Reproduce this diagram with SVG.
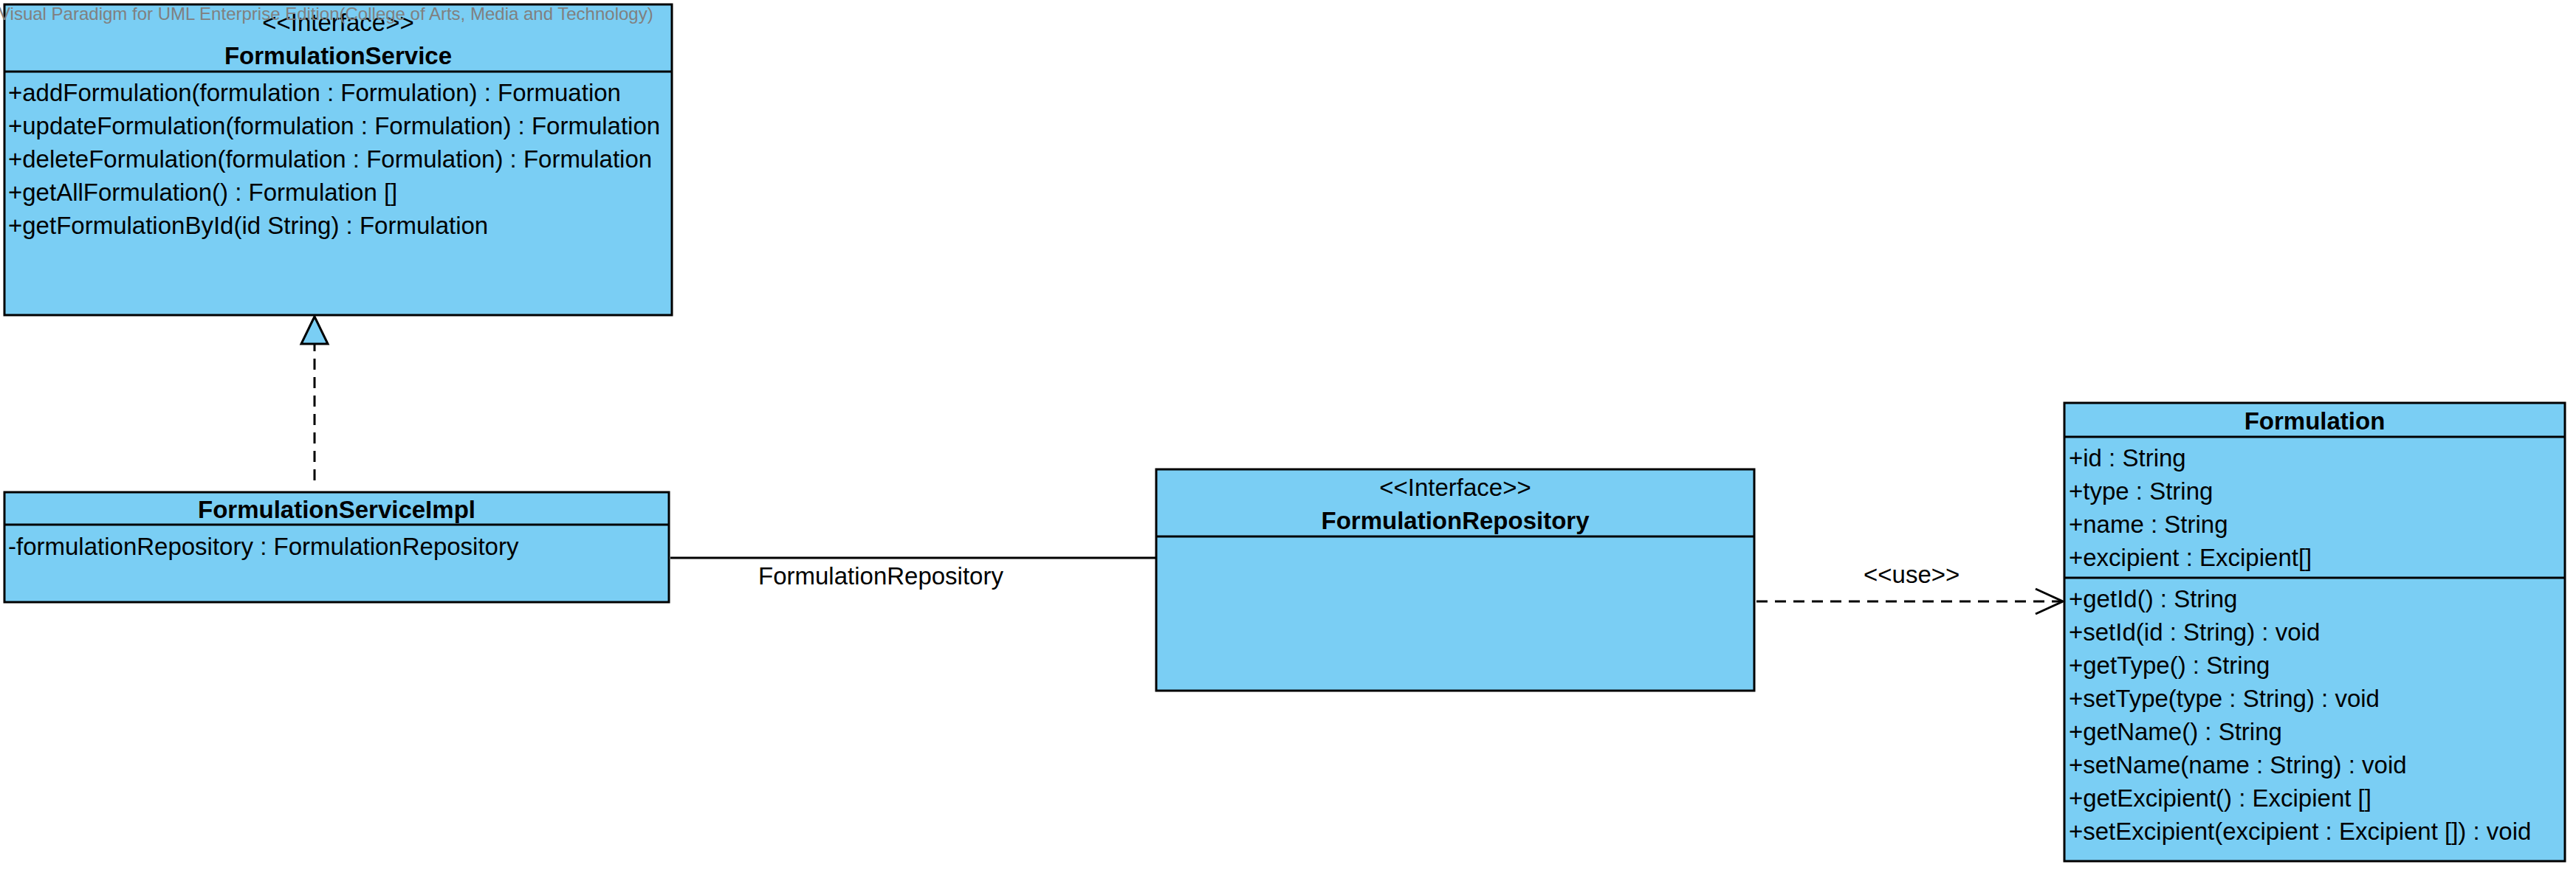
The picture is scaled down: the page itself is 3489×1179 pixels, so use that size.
<svg xmlns="http://www.w3.org/2000/svg" width="3489" height="1179" viewBox="0 0 3489 1179">
<style>
.box{fill:#7ACEF4;stroke:#000;stroke-width:3}
.div{stroke:#000;stroke-width:3}
text{font-family:"Liberation Sans",Arial,sans-serif;font-size:33px;fill:#000}
.b{font-weight:bold}
.c{text-anchor:middle}
.ln{stroke:#000;stroke-width:3;fill:none}
.dash{stroke-dasharray:15 10}
.wm{font-size:24px;fill:#808080}
</style>
<rect width="3489" height="1179" fill="#fff"/>
<g id="FormulationService">
<rect class="box" x="6" y="6" width="904" height="421"/>
<line class="div" x1="6" y1="97" x2="910" y2="97"/>
<text class="c" x="458" y="42">&lt;&lt;Interface&gt;&gt;</text>
<text class="b c" x="458" y="87">FormulationService</text>
<text x="11" y="137">+addFormulation(formulation : Formulation) : Formuation</text>
<text x="11" y="182">+updateFormulation(formulation : Formulation) : Formulation</text>
<text x="11" y="227">+deleteFormulation(formulation : Formulation) : Formulation</text>
<text x="11" y="272">+getAllFormulation() : Formulation []</text>
<text x="11" y="317">+getFormulationById(id String) : Formulation</text>
</g>
<g id="FormulationServiceImpl">
<rect class="box" x="6" y="667" width="900" height="149"/>
<line class="div" x1="6" y1="711" x2="906" y2="711"/>
<text class="b c" x="456" y="702">FormulationServiceImpl</text>
<text x="11" y="752">-formulationRepository : FormulationRepository</text>
</g>
<g id="FormulationRepository">
<rect class="box" x="1566" y="636" width="810" height="300"/>
<line class="div" x1="1566" y1="727" x2="2376" y2="727"/>
<text class="c" x="1971" y="672">&lt;&lt;Interface&gt;&gt;</text>
<text class="b c" x="1971" y="717">FormulationRepository</text>
</g>
<g id="Formulation">
<rect class="box" x="2796" y="546" width="678" height="621"/>
<line class="div" x1="2796" y1="592" x2="3474" y2="592"/>
<line class="div" x1="2796" y1="783" x2="3474" y2="783"/>
<text class="b c" x="3135" y="582">Formulation</text>
<text x="2802" y="632">+id : String</text>
<text x="2802" y="677">+type : String</text>
<text x="2802" y="722">+name : String</text>
<text x="2802" y="767">+excipient : Excipient[]</text>
<text x="2802" y="823">+getId() : String</text>
<text x="2802" y="868">+setId(id : String) : void</text>
<text x="2802" y="913">+getType() : String</text>
<text x="2802" y="958">+setType(type : String) : void</text>
<text x="2802" y="1003">+getName() : String</text>
<text x="2802" y="1048">+setName(name : String) : void</text>
<text x="2802" y="1093">+getExcipient() : Excipient []</text>
<text x="2802" y="1138">+setExcipient(excipient : Excipient []) : void</text>
</g>
<g id="connectors">
<line class="ln dash" x1="426" y1="651" x2="426" y2="466"/>
<polygon points="426,429 408,466 444,466" fill="#7ACEF4" stroke="#000" stroke-width="3" stroke-linejoin="miter"/>
<line class="ln" x1="908" y1="756" x2="1565" y2="756"/>
<text x="1027" y="792">FormulationRepository</text>
<line class="ln dash" x1="2379" y1="815" x2="2792" y2="815"/>
<polyline class="ln" points="2757,798 2794,815 2757,832"/>
<text x="2524" y="790">&lt;&lt;use&gt;&gt;</text>
</g>
<text class="wm" x="-2" y="27">Visual Paradigm for UML Enterprise Edition(College of Arts, Media and Technology)</text>
</svg>
